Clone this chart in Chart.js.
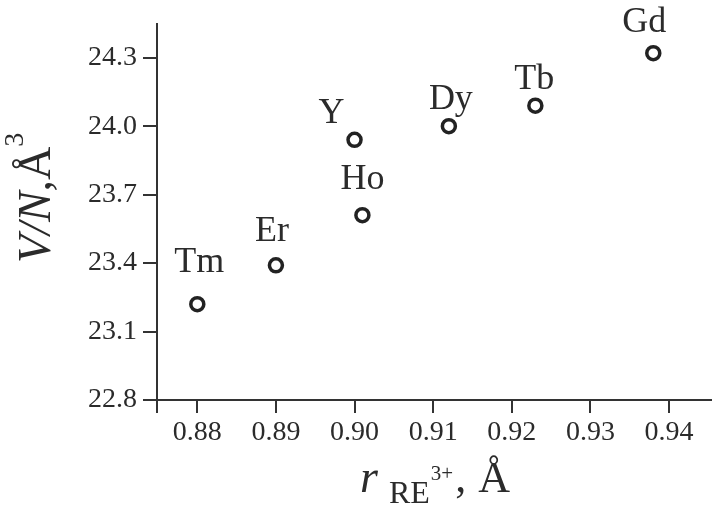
<!DOCTYPE html>
<html>
<head>
<meta charset="utf-8">
<script src="https://cdn.jsdelivr.net/npm/chart.js@4/dist/chart.umd.min.js"></script>
<style>
  html, body { margin: 0; padding: 0; background: #fff; }
  #chart { display: block; }
</style>
</head>
<body>
<canvas id="chart" width="714" height="508"></canvas>
<script>
// data
const elements = ['Tm', 'Er', 'Y', 'Ho', 'Dy', 'Tb', 'Gd'];
const ionicRadius = [0.880, 0.890, 0.900, 0.901, 0.912, 0.923, 0.938];
const volumePerAtom = [23.22, 23.39, 23.94, 23.61, 24.00, 24.09, 24.32];
const xTickLabels = ['0.88', '0.89', '0.90', '0.91', '0.92', '0.93', '0.94'];
const yTickLabels = ['22.8', '23.1', '23.4', '23.7', '24.0', '24.3'];

const xTickValues = xTickLabels.map(Number);
const yTickValues = yTickLabels.map(Number);

// where each element name sits relative to its circle (px, baseline)
const labelOffsets = [[2, -32], [-4, -24], [-23, -17], [0, -26], [2, -17], [-1, -17], [-9, -21]];

const INK = '#2b2b2b';
const LINE = '#333';
const SERIF = '"Liberation Serif", "Times New Roman", serif';

const whiteBackground = {
  id: 'whiteBackground',
  beforeDraw(chart) {
    const ctx = chart.ctx;
    ctx.save();
    ctx.fillStyle = '#fff';
    ctx.fillRect(0, 0, chart.width, chart.height);
    ctx.restore();
  }
};

// draws a row of text pieces with their own font and baseline shift
function drawRuns(ctx, runs, x, y) {
  runs.forEach(run => {
    ctx.font = run.font;
    x += run.gap || 0;
    ctx.fillText(run.text, x, y + (run.dy || 0));
    x += ctx.measureText(run.text).width;
  });
}

const annotations = {
  id: 'annotations',
  afterDraw(chart) {
    const ctx = chart.ctx;
    const xs = chart.scales.x, ys = chart.scales.y;
    ctx.save();
    ctx.fillStyle = INK;
    ctx.textBaseline = 'alphabetic';

    // element names
    ctx.textAlign = 'center';
    ctx.font = '36px ' + SERIF;
    elements.forEach((name, i) => {
      const [dx, dy] = labelOffsets[i];
      ctx.fillText(name,
        xs.getPixelForValue(ionicRadius[i]) + dx,
        ys.getPixelForValue(volumePerAtom[i]) + dy);
    });

    // x title: r RE3+, Å
    ctx.textAlign = 'left';
    drawRuns(ctx, [
      { text: 'r', font: 'italic 46px ' + SERIF },
      { text: 'RE', font: '32px ' + SERIF, dy: 11, gap: 11 },
      { text: '3+', font: '21px ' + SERIF, dy: -12, gap: 1 },
      { text: ',', font: '44px ' + SERIF, gap: 2 },
      { text: 'Å', font: '44px ' + SERIF, gap: 12 }
    ], 360, 492);

    // y title: V/N, Å3 (rotated)
    ctx.translate(50, 263);
    ctx.rotate(-Math.PI / 2);
    drawRuns(ctx, [
      { text: 'V/N', font: 'italic 46px ' + SERIF },
      { text: ',Å', font: '46px ' + SERIF },
      { text: '3', font: '28px ' + SERIF, dy: -27, gap: 0 }
    ], 0, 0);
    ctx.restore();
  }
};

new Chart(document.getElementById('chart'), {
  type: 'scatter',
  data: {
    datasets: [{
      data: ionicRadius.map((r, i) => ({ x: r, y: volumePerAtom[i] })),
      pointStyle: 'circle',
      pointRadius: 6.5,
      pointBorderWidth: 3.5,
      borderColor: '#222',
      backgroundColor: '#fff',
      showLine: false,
      clip: false
    }]
  },
  options: {
    responsive: false,
    animation: false,
    events: [],
    layout: { autoPadding: false, padding: { left: 0, top: 24, right: 3, bottom: 0 } },
    plugins: {
      legend: { display: false },
      tooltip: { enabled: false }
    },
    scales: {
      x: {
        type: 'linear',
        min: 0.874874,
        max: 0.945342,
        afterBuildTicks: s => { s.ticks = [s.min, ...xTickValues].map(v => ({ value: v })); },
        afterFit: s => { s.height = 108; s.paddingLeft = 0; s.paddingRight = 0; },
        border: { display: true, color: LINE, width: 2 },
        grid: { display: true, drawOnChartArea: false, drawTicks: true, tickLength: 13, color: LINE, lineWidth: 2 },
        ticks: {
          color: INK,
          font: { family: SERIF, size: 28 },
          padding: 3,
          maxRotation: 0,
          autoSkip: false,
          callback: (v, i) => i === 0 ? '' : xTickLabels[i - 1]
        }
      },
      y: {
        type: 'linear',
        min: 22.8,
        max: 24.4477,
        afterBuildTicks: s => { s.ticks = yTickValues.map(v => ({ value: v })); },
        afterFit: s => { s.width = 157; s.paddingTop = 0; s.paddingBottom = 0; },
        border: { display: true, color: LINE, width: 2 },
        grid: { display: true, drawOnChartArea: false, drawTicks: true, tickLength: 14, color: LINE, lineWidth: 2 },
        ticks: {
          color: INK,
          font: { family: SERIF, size: 28 },
          padding: 6,
          autoSkip: false,
          callback: (v, i) => yTickLabels[i]
        }
      }
    }
  },
  plugins: [whiteBackground, annotations]
});
</script>
</body>
</html>
